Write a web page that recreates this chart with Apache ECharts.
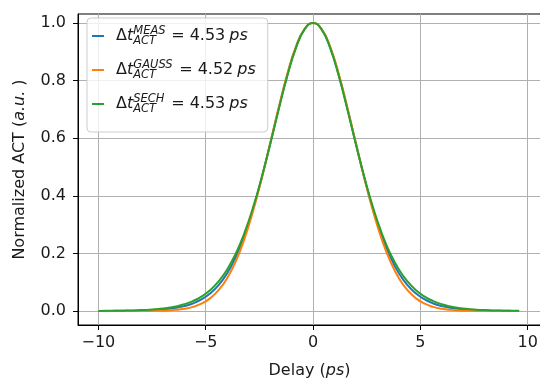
<!DOCTYPE html>
<html><head><meta charset="utf-8">
<script src="https://cdn.jsdelivr.net/npm/echarts@6/dist/echarts.min.js"></script>
<style>html,body{margin:0;padding:0;background:#fff;overflow:hidden}#c{width:540px;height:387px}</style>
</head><body><div id="c"></div><script>
const delay = [-10,-9.6,-9.2,-8.8,-8.4,-8,-7.6,-7.2,-6.8,-6.4,-6,-5.6,-5.2,-4.8,-4.4,-4,-3.6,-3.2,-2.8,-2.4,-2,-1.6,-1.2,-0.8,-0.4,0,0.4,0.8,1.2,1.6,2,2.4,2.8,3.2,3.6,4,4.4,4.8,5.2,5.6,6,6.4,6.8,7.2,7.6,8,8.4,8.8,9.2,9.6];
const actMeas = [0.0002,0.0003,0.0005,0.0008,0.0012,0.0019,0.0030,0.0046,0.0071,0.0110,0.0170,0.0262,0.0400,0.0605,0.0900,0.1310,0.1880,0.2615,0.3525,0.4600,0.5795,0.7025,0.8185,0.9142,0.9778,1.0000,0.9778,0.9142,0.8185,0.7025,0.5795,0.4600,0.3525,0.2615,0.1880,0.1310,0.0900,0.0605,0.0400,0.0262,0.0170,0.0110,0.0071,0.0046,0.0030,0.0019,0.0012,0.0008,0.0005,0.0003];
const actGauss = [0,0,0,0,0.0001,0.0002,0.0004,0.0009,0.0019,0.0039,0.0076,0.0142,0.0255,0.0439,0.0723,0.1140,0.1723,0.2492,0.3451,0.4577,0.5811,0.7065,0.8225,0.9168,0.9785,1.0000,0.9785,0.9168,0.8225,0.7065,0.5811,0.4577,0.3451,0.2492,0.1723,0.1140,0.0723,0.0439,0.0255,0.0142,0.0076,0.0039,0.0019,0.0009,0.0004,0.0002,0.0001,0,0,0];
const actSech = [0.0004,0.0006,0.0009,0.0013,0.0020,0.0031,0.0047,0.0070,0.0105,0.0157,0.0233,0.0343,0.0499,0.0720,0.1027,0.1443,0.1993,0.2701,0.3579,0.4618,0.5782,0.6999,0.8156,0.9126,0.9773,1.0000,0.9773,0.9126,0.8156,0.6999,0.5782,0.4618,0.3579,0.2701,0.1993,0.1443,0.1027,0.0720,0.0499,0.0343,0.0233,0.0157,0.0105,0.0070,0.0047,0.0031,0.0020,0.0013,0.0009,0.0006];
const seriesKeys = ['MEAS','GAUSS','SECH'];
const fwhmValues = ['4.53','4.52','4.53'];
const xTicks = [-10,-5,0,5,10];
const yTicks = [0,0.2,0.4,0.6,0.8,1.0];

const colors = ['#1f77b4','#ff7f0e','#2ca02c'];
const FF = 'DejaVu Sans';
const TXT = '#1a1a1a';
const FS = 16;
const LFS = 16;
const SFS = 11.5;
const seriesData = [actMeas, actGauss, actSech];
const subKey = {MEAS:'subM', GAUSS:'subG', SECH:'subS'};
const subW = {subM:33, subG:41, subS:33};

const rich = {
  d:{fontFamily:FF,fontSize:LFS,color:TXT,lineHeight:28,padding:[0,0,0,7]},
  t:{fontFamily:FF,fontSize:LFS,color:TXT,fontStyle:'italic',lineHeight:28},
  sup:{fontFamily:FF,fontSize:SFS,color:TXT,fontStyle:'italic',lineHeight:13,padding:[0,0,9,0],width:0},
  eq:{fontFamily:FF,fontSize:LFS,color:TXT,lineHeight:28,padding:[0,5,0,5]},
  num:{fontFamily:FF,fontSize:LFS,color:TXT,lineHeight:28},
  u:{fontFamily:FF,fontSize:LFS,color:TXT,fontStyle:'italic',lineHeight:28,padding:[0,0,0,4]}
};
Object.keys(subW).forEach(k=>{
  rich[k] = {fontFamily:FF,fontSize:SFS,color:TXT,fontStyle:'italic',lineHeight:13,padding:[10,0,0,0],width:subW[k]};
});

const minus = v => (v < 0 ? '\u2212' + Math.abs(v) : String(v));

const chart = echarts.init(document.getElementById('c'), null, {renderer:'canvas'});
chart.setOption({
  animation:false,
  backgroundColor:'#fff',
  textStyle:{fontFamily:FF},
  color:colors,
  grid:{left:78, top:14, right:-1, bottom:62, show:true, borderColor:'#000', borderWidth:1, backgroundColor:'transparent', outerBoundsMode:'none', containLabel:false},
  legend:{
    orient:'vertical', left:87, top:18, padding:[7,12,17,5], itemGap:12,
    itemWidth:12, itemHeight:2, icon:'rect',
    borderColor:'#cccccc', borderWidth:1, borderRadius:4, backgroundColor:'rgba(255,255,255,0.8)',
    data:seriesKeys,
    formatter:function(name){
      const i = seriesKeys.indexOf(name);
      return '{d|\u0394}{t|t}{sup|' + name + '}{' + subKey[name] + '|ACT}{eq|=}{num|' + fwhmValues[i] + '}{u|ps}';
    },
    textStyle:{rich:rich}
  },
  xAxis:{
    type:'value', min:-10.95, max:10.62,
    name:'{n|Delay (}{i|ps}{n|)}', nameLocation:'middle', nameGap:38,
    nameTextStyle:{rich:{n:{fontFamily:FF,fontSize:FS,color:TXT},i:{fontFamily:FF,fontSize:FS,color:TXT,fontStyle:'italic'}}},
    axisLine:{show:true,onZero:false,lineStyle:{color:'#000',width:1}},
    axisTick:{show:true,length:5,customValues:xTicks,lineStyle:{color:'#000',width:1}},
    axisLabel:{customValues:xTicks,formatter:v=>minus(v),fontFamily:FF,fontSize:FS,color:TXT,margin:10,showMaxLabel:true,showMinLabel:true,hideOverlap:false},
    splitLine:{show:true,lineStyle:{color:'#b0b0b0',width:1}}
  },
  yAxis:{
    type:'value', min:-0.0486, max:1.031,
    name:'{n|Normalized ACT (}{i|a.u.}{n| )}', nameLocation:'middle', nameGap:50, nameRotate:90,
    nameTextStyle:{rich:{n:{fontFamily:FF,fontSize:FS,color:TXT},i:{fontFamily:FF,fontSize:FS,color:TXT,fontStyle:'italic'}}},
    axisLine:{show:true,onZero:false,lineStyle:{color:'#000',width:1}},
    axisTick:{show:true,length:5,customValues:yTicks,lineStyle:{color:'#000',width:1}},
    axisLabel:{customValues:yTicks,formatter:v=>v.toFixed(1),fontFamily:FF,fontSize:FS,color:TXT,margin:12},
    splitLine:{show:true,lineStyle:{color:'#b0b0b0',width:1}}
  },
  series: seriesKeys.map((k,i)=>({
    name:k, type:'line', showSymbol:false, smooth:0.5,
    lineStyle:{width:2,color:colors[i]}, itemStyle:{color:colors[i]},
    data: delay.map((x,j)=>[x, seriesData[i][j]])
  }))
});
</script></body></html>
